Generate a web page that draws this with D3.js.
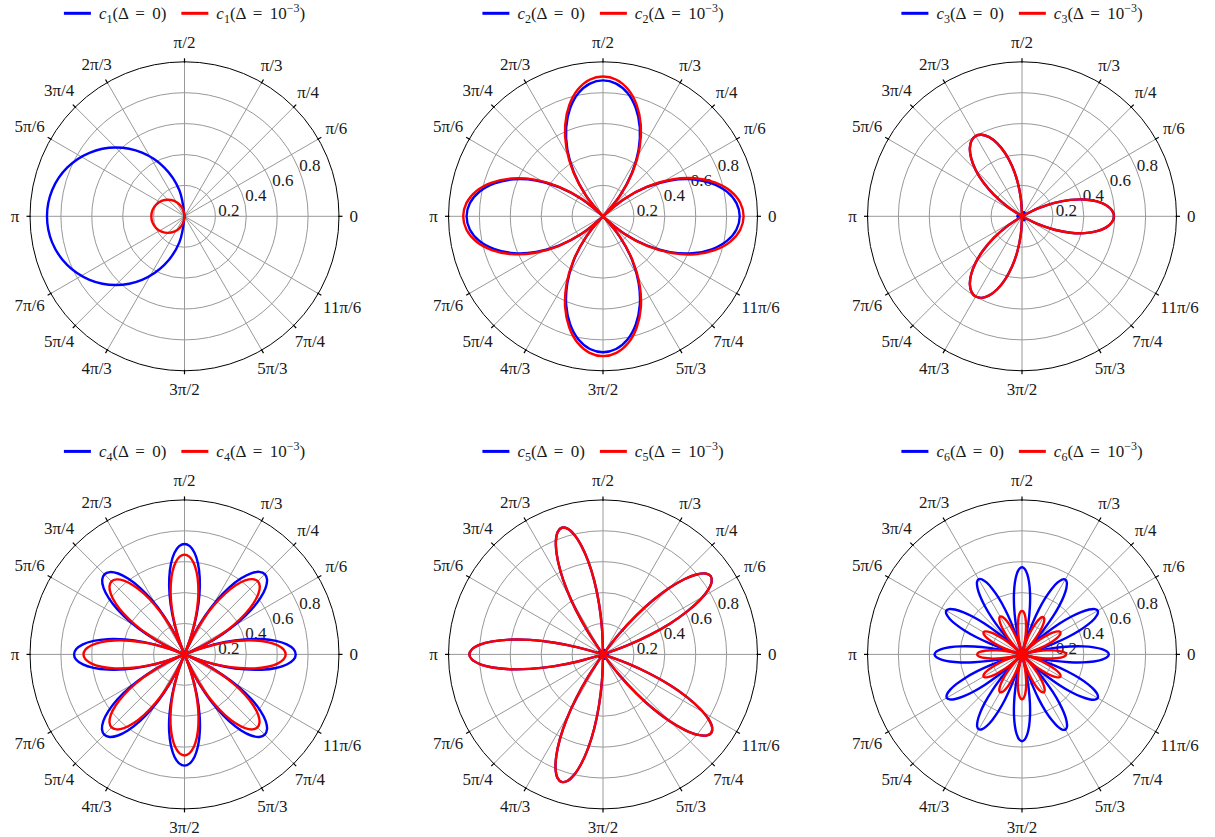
<!DOCTYPE html>
<html>
<head>
<meta charset="utf-8">
<script src="https://cdn.jsdelivr.net/npm/d3@7"></script>
<style>
body{margin:0;background:#fff}
</style>
</head>
<body>
<svg id="chart" width="1215" height="837" font-family="Liberation Serif, DejaVu Serif, Times New Roman, serif"></svg>
<script>
// angular grid (degrees) and labels
var angleDeg = [0,30,45,60,90,120,135,150,180,210,225,240,270,300,315,330];
var angleLabels = ["0","π/6","π/4","π/3","π/2","2π/3","3π/4","5π/6","π","7π/6","5π/4","4π/3","3π/2","5π/3","7π/4","11π/6"];
var radialTicks = [0.2,0.4,0.6,0.8];
var radialLabels = ["0.2","0.4","0.6","0.8"];

// shape of one petal: r/peak at 0, 1/8, ... 8/8 of its half width
var lobeShape = [1,0.981,0.924,0.831,0.707,0.556,0.383,0.195,0];

// petals: centre angle (deg), half width (deg), peak radius for each series
var c1Angles = [180], c1Half = 90;
var c1Blue = [0.89];
var c1Red = [0.215];

var c2Angles = [0,90,180,270], c2Half = 45;
var c2Blue = [0.885,0.88,0.883,0.88];
var c2Red = [0.91,0.905,0.905,0.905];

var c3Angles = [0,120,240], c3Half = 30;
var c3Blue = [0.595,0.6,0.6];
var c3Red = [0.595,0.6,0.6];
var c3GapAngles = [60,180,300];
var c3GapBlue = [0.03,0.03,0.03];

var c4Angles = [0,45,90,135,180,225,270,315], c4Half = 22.5;
var c4Blue = [0.72,0.735,0.715,0.733,0.715,0.735,0.72,0.735];
var c4Red = [0.655,0.67,0.646,0.668,0.654,0.668,0.654,0.668];

var c5Angles = [36,108,180,252,324], c5Half = 18;
var c5Blue = [0.862,0.862,0.865,0.868,0.866];
var c5Red = [0.862,0.862,0.865,0.868,0.866];
var c5GapAngles = [0,72,144,216,288];
var c5GapBlue = [0.03,0.03,0.03,0.03,0.03];

var c6Angles = [0,30,60,90,120,150,180,210,240,270,300,330], c6Half = 15;
var c6Blue = [0.562,0.566,0.56,0.564,0.562,0.566,0.566,0.562,0.56,0.562,0.562,0.566];
var c6Red = [0.285,0.287,0.278,0.282,0.283,0.287,0.29,0.287,0.283,0.29,0.283,0.287];

var panels = [
  {n:1, ang:c1Angles, half:c1Half, blue:c1Blue, red:c1Red},
  {n:2, ang:c2Angles, half:c2Half, blue:c2Blue, red:c2Red},
  {n:3, ang:c3Angles, half:c3Half, blue:c3Blue, red:c3Red, gapAng:c3GapAngles, gapBlue:c3GapBlue},
  {n:4, ang:c4Angles, half:c4Half, blue:c4Blue, red:c4Red},
  {n:5, ang:c5Angles, half:c5Half, blue:c5Blue, red:c5Red, gapAng:c5GapAngles, gapBlue:c5GapBlue},
  {n:6, ang:c6Angles, half:c6Half, blue:c6Blue, red:c6Red}
];

var svg = d3.select("#chart");
var colX = [184.5, 603, 1022], rowY = [216.3, 654.4];
var R = 154.5;
var FS = 17;
var r = d3.scaleLinear().domain([0,1]).range([0,R]);
var toRad = function(d){ return d*Math.PI/180; };

var lobeLine = d3.lineRadial()
  .angle(function(d){ return toRad(90 - d.a); })
  .radius(function(d){ return r(d.v); })
  .curve(d3.curveCatmullRom.alpha(0.5));

function lobePoints(center, half, peak){
  return d3.range(-8,9).map(function(j){
    return {a: center + j/8*half, v: peak*lobeShape[Math.abs(j)]};
  });
}

function drawSeries(g, angles, half, peaks, color){
  g.selectAll(null).data(angles).enter().append("path")
    .attr("d", function(a,i){ return lobeLine(lobePoints(a, half, peaks[i])); })
    .attr("fill","none").attr("stroke",color).attr("stroke-width",2.4)
    .attr("stroke-linejoin","round");
}

function addLabel(t, sub, tail, sup){
  t.append("tspan").attr("font-style","italic").text("c");
  t.append("tspan").attr("font-size",12).attr("dy",4).text(sub);
  if(sup){
    t.append("tspan").attr("dy",-4).text("(Δ = 10");
    t.append("tspan").attr("font-size",12).attr("dy",-7).text(sup);
    t.append("tspan").attr("dy",7).text(")");
  } else {
    t.append("tspan").attr("dy",-4).text(tail);
  }
}

panels.forEach(function(p, k){
  var cx = colX[k%3], cy = rowY[Math.floor(k/3)];
  var g = svg.append("g").attr("transform","translate("+cx+","+cy+")");

  // rings
  g.selectAll(".ring").data(radialTicks).enter().append("circle")
    .attr("r", function(d){ return r(d); })
    .attr("fill","none").attr("stroke","#999").attr("stroke-width",1);
  // spokes
  g.selectAll(".spoke").data(angleDeg).enter().append("line")
    .attr("x1",0).attr("y1",0)
    .attr("x2", function(d){ return R*Math.cos(toRad(d)); })
    .attr("y2", function(d){ return -R*Math.sin(toRad(d)); })
    .attr("stroke","#999").attr("stroke-width",1);
  // outer circle + ticks
  g.append("circle").attr("r",R).attr("fill","none").attr("stroke","#000").attr("stroke-width",1);
  g.selectAll(".tick").data(angleDeg).enter().append("line")
    .attr("x1", function(d){ return (R-1)*Math.cos(toRad(d)); })
    .attr("y1", function(d){ return -(R-1)*Math.sin(toRad(d)); })
    .attr("x2", function(d){ return (R+3.5)*Math.cos(toRad(d)); })
    .attr("y2", function(d){ return -(R+3.5)*Math.sin(toRad(d)); })
    .attr("stroke","#000").attr("stroke-width",1.2);

  // angle labels
  g.selectAll(".alab").data(angleDeg).enter().append("text")
    .attr("text-anchor","middle").attr("dominant-baseline","central")
    .attr("font-size",FS).attr("fill","#1a1a1a")
    .text(function(d,i){ return angleLabels[i]; })
    .each(function(d){
      var w = this.getBBox().width, c = Math.cos(toRad(d)), s = Math.sin(toRad(d));
      var rr = R + 10.5 + Math.sqrt(Math.pow(c*w/2,2) + Math.pow(s*8.5,2));
      d3.select(this).attr("x", rr*c).attr("y", -rr*s);
    });

  // radial labels
  var la = toRad(29);
  g.selectAll(".rlab").data(radialTicks).enter().append("text")
    .attr("font-size",FS).attr("fill","#1a1a1a")
    .attr("x", function(d){ return r(d)*Math.cos(la) + 6.6; })
    .attr("y", function(d){ return -r(d)*Math.sin(la) + 14.5; })
    .text(function(d,i){ return radialLabels[i]; });

  // curves
  var cg = g.append("g");
  drawSeries(cg, p.ang, p.half, p.blue, "#0000ff");
  if(p.gapAng) drawSeries(cg, p.gapAng, p.half, p.gapBlue, "#0000ff");
  drawSeries(cg, p.ang, p.half, p.red, "#ff0000");

  // legend
  var lg = g.append("g").attr("transform","translate(0,-203)");
  var x = 0;
  var items = [{col:"#0000ff", tail:"(Δ = 0)"}, {col:"#ff0000", sup:"−3"}];
  items.forEach(function(it, i){
    lg.append("line").attr("x1",x).attr("x2",x+27).attr("y1",0).attr("y2",0)
      .attr("stroke",it.col).attr("stroke-width",3);
    var t = lg.append("text").attr("x",x+35).attr("y",6).attr("font-size",FS)
      .attr("word-spacing",3).attr("fill","#1a1a1a");
    addLabel(t, String(p.n), it.tail, it.sup);
    x = x + 35 + t.node().getBBox().width + 15;
  });
  var bb = lg.node().getBBox();
  lg.attr("transform","translate("+(-bb.x - bb.width/2)+",-203)");
});
</script>
</body>
</html>
